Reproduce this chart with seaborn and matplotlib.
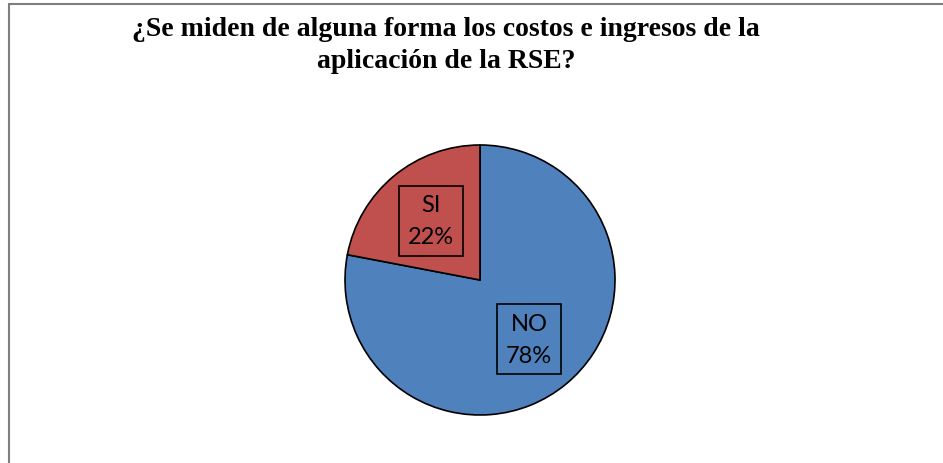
import matplotlib
matplotlib.use("Agg")
import matplotlib.pyplot as plt
import seaborn as sns
from matplotlib.patches import Rectangle

categories = ["NO", "SI"]
values = [78, 22]
colors = ["#4F81BD", "#C0504D"]
title = "¿Se miden de alguna forma los costos e ingresos de la\naplicación de la RSE?"

sns.set_theme(style="white")
plt.rcParams['font.family'] = ['Lato', 'DejaVu Sans']

W, H = 943, 464
fig = plt.figure(figsize=(W / 100, H / 100), dpi=100)
fig.patch.set_facecolor("white")

# outer frame (only left and top edges visible)
fig.add_artist(Rectangle((9 / W, -0.1), 1.2, (H - 5) / H + 0.1, transform=fig.transFigure,
                         fill=False, edgecolor="#7f7f7f", linewidth=1.5))

cx, cy, r = 480, 281, 135
ax = fig.add_axes([(cx - r) / W, (H - cy - r) / H, 2 * r / W, 2 * r / H])
wedges, texts, autotexts = ax.pie(values, colors=colors, startangle=90, counterclock=False,
                                  autopct='%1.0f%%', pctdistance=0.57,
                                  wedgeprops=dict(edgecolor="black", linewidth=1.2))
ax.set_xlim(-1, 1)
ax.set_ylim(-1, 1)
for w in wedges:
    w.set_clip_on(False)
for cat, t in zip(categories, autotexts):
    t.set_text(f"{cat}\n{t.get_text()}")
    t.set_fontsize(17)
    t.set_color("black")
    t.set_linespacing(1.65)
    t.set_bbox(dict(boxstyle="square,pad=0.36", facecolor="none", edgecolor="black", linewidth=1.2))

fig.text(446 / W, 1 - 45.5 / H, title, ha="center", va="center", fontsize=20, fontweight="bold",
         color="black", family=["Liberation Serif", "DejaVu Serif"], linespacing=1.32)

fig.savefig("out.png", dpi=100, facecolor="white")
